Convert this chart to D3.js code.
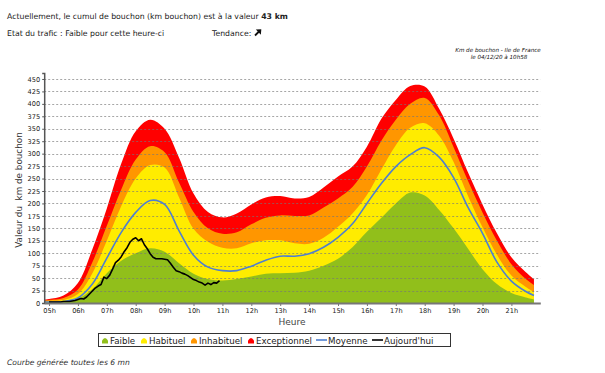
<!DOCTYPE html>
<html><head><meta charset="utf-8">
<script src="https://cdn.jsdelivr.net/npm/d3@7"></script>
<style>body{margin:0;background:#fff} svg{display:block}</style>
</head><body>
<svg id="c" width="605" height="373"></svg>
<script>
// ---- data ----
const hours = [4.8333, 5.0, 5.5, 6.0, 6.5, 7.0, 7.5, 8.0, 8.5, 9.0, 9.5, 10.0, 10.5, 11.0, 11.5, 12.0, 12.5, 13.0, 13.5, 14.0, 14.5, 15.0, 15.5, 16.0, 16.5, 17.0, 17.5, 18.0, 18.5, 19.0, 19.5, 20.0, 20.5, 21.0, 21.5, 21.78];
const exceptionnel = [7, 8, 15, 40, 108, 190, 280, 345, 368, 350, 292, 220, 183, 172, 180, 198, 212, 215, 210, 213, 232, 254, 274, 314, 370, 408, 436, 435, 390, 330, 262, 198, 140, 92, 62, 48];
const inhabituel = [5, 6, 10, 27, 82, 155, 228, 288, 315, 303, 242, 183, 150, 139, 142, 158, 171, 176, 175, 176, 192, 210, 233, 274, 326, 368, 400, 412, 377, 313, 245, 182, 125, 78, 48, 36];
const habituel = [3, 4, 6, 18, 60, 125, 195, 250, 277, 272, 212, 149, 123, 111, 110, 120, 126, 126, 120, 119, 131, 153, 180, 217, 268, 317, 352, 361, 336, 283, 215, 152, 97, 55, 32, 22];
const faible = [1, 1, 2, 8, 28, 60, 85, 100, 110, 103, 80, 59, 48, 45, 48, 53, 59, 60, 61, 65, 75, 89, 112, 143, 171, 200, 222, 216, 187, 150, 109, 68, 38, 20, 11, 7];
const moyenne = [2, 2, 3, 10, 38, 90, 142, 182, 206, 198, 145, 96, 72, 65, 65, 74, 86, 94, 94, 99, 112, 132, 159, 200, 240, 274, 298, 312, 293, 252, 192, 140, 82, 44, 23, 15];
const todayStart = 5.0, todayStep = 0.1; // one reading every 6 mn
const today = [2, 2, 2, 2, 2, 3, 3, 3, 4, 5,
  7, 9, 8, 12, 18, 24, 30, 34, 37, 52,
  49, 56, 68, 81, 86, 93, 103, 111, 122, 128,
  131, 125, 129, 117, 109, 99, 92, 89, 89, 89,
  88, 87, 80, 72, 65, 63, 60, 58, 55, 51,
  47, 45, 42, 40, 36, 40, 37, 41, 40, 45];
const yTicks = [0, 25, 50, 75, 100, 125, 150, 175, 200, 225, 250, 275, 300, 325, 350, 375, 400, 425, 450];
const xTickHours = [5, 6, 7, 8, 9, 10, 11, 12, 13, 14, 15, 16, 17, 18, 19, 20, 21];
const xTickLabels = ["05h","06h","07h","08h","09h","10h","11h","12h","13h","14h","15h","16h","17h","18h","19h","20h","21h"];
const legendLabels = ["Faible", "Habituel", "Inhabituel", "Exceptionnel", "Moyenne", "Aujourd'hui"];
const colors = {faible:"#91bf1b", habituel:"#ffec00", inhabituel:"#ff9600", exceptionnel:"#ff0000", moyenne:"#4f7fd0", today:"#000000"};

// ---- chart ----
const svg = d3.select("#c");
const F = "'DejaVu Sans', Verdana, sans-serif";
const x = d3.scaleLinear().domain([4.8333, 22]).range([44.2, 540.3]);
const y = d3.scaleLinear().domain([0, 462]).range([303, 73]);

const curve = d3.curveCatmullRom.alpha(0.5);
function areaFor(vals){
  return d3.area().x((d,i)=>x(hours[i])).y0(y(0)).y1(d=>y(Math.max(0,d))).curve(curve)(vals);
}
[["exceptionnel",exceptionnel],["inhabituel",inhabituel],["habituel",habituel],["faible",faible]].forEach(([k,v])=>{
  svg.append("path").attr("d", areaFor(v)).attr("fill", colors[k]);
});

// grid
svg.append("g").selectAll("line").data(yTicks.filter(t=>t>0)).join("line")
  .attr("x1", x(4.8333)).attr("x2", x(22)).attr("y1", d=>Math.round(y(d))+0.5).attr("y2", d=>Math.round(y(d))+0.5)
  .attr("stroke", "#777").attr("stroke-opacity", 0.65).attr("stroke-dasharray", "2,2").attr("stroke-width", 1);

// moyenne
svg.append("path").attr("d", d3.line().x((d,i)=>x(hours[i])).y(d=>y(d)).curve(curve)(moyenne))
  .attr("fill","none").attr("stroke", colors.moyenne).attr("stroke-width", 1.6);
// today
svg.append("path").attr("d", d3.line().x((d,i)=>x(todayStart + i*todayStep)).y(d=>y(d))(today))
  .attr("fill","none").attr("stroke", colors.today).attr("stroke-width", 1.6).attr("stroke-linejoin","round");

// y axis
const ya = svg.append("g").attr("transform", `translate(${x(4.8333)},0)`)
  .call(d3.axisLeft(y).tickValues(yTicks).tickSize(2).tickPadding(2));
ya.select(".domain").attr("stroke", "#555").attr("stroke-width", 1.5);
ya.selectAll(".tick line").attr("stroke", "#555");
ya.selectAll("text").attr("font-family", F).attr("font-size", "6.6px").attr("fill", "#222");

// x axis
const xa = svg.append("g").attr("transform", `translate(0,${y(0)})`)
  .call(d3.axisBottom(x).tickValues(xTickHours).tickFormat((d,i)=>xTickLabels[i]).tickSize(3).tickSizeOuter(0).tickPadding(2));
xa.select(".domain").attr("stroke", "#777").attr("stroke-width", 2);
xa.selectAll(".tick line").attr("stroke", "#777");
xa.selectAll("text").attr("font-family", F).attr("font-size", "6.6px").attr("fill", "#222");

// axis titles
svg.append("text").attr("x", 292).attr("y", 325).attr("text-anchor","middle")
  .attr("font-family", F).attr("font-size", "9px").attr("fill", "#444").text("Heure");
svg.append("text").attr("transform", "translate(22,190) rotate(-90)").attr("text-anchor","middle")
  .attr("font-family", F).attr("font-size", "8.8px").attr("fill", "#333").attr("xml:space","preserve")
  .style("white-space","pre").text("Valeur du  km de bouchon");

// header texts
const t1 = svg.append("text").attr("x", 7).attr("y", 19).attr("font-family", F).attr("font-size", "7.75px").attr("fill", "#222");
t1.append("tspan").text("Actuellement, le cumul de bouchon (km bouchon) est à la valeur ");
t1.append("tspan").attr("font-weight","bold").text("43 km");
svg.append("text").attr("x", 7).attr("y", 36).attr("font-family", F).attr("font-size", "7.75px").attr("fill", "#222")
  .text("Etat du trafic : Faible pour cette heure-ci");
svg.append("text").attr("x", 212).attr("y", 36).attr("font-family", F).attr("font-size", "7.75px").attr("fill", "#222")
  .text("Tendance:");
// trend arrow (north-east)
svg.append("line").attr("x1", 255).attr("y1", 35.5).attr("x2", 259.5).attr("y2", 31)
  .attr("stroke", "#111").attr("stroke-width", 1.8);
svg.append("path").attr("d", "M261.3,29.2 L255.8,29.6 L260.9,34.7 Z").attr("fill", "#111");

svg.append("text").attr("x", 498).attr("y", 52).attr("text-anchor","middle").attr("font-family", F).attr("font-style","italic")
  .attr("font-size", "5.6px").attr("fill", "#111").text("Km de bouchon - Ile de France");
svg.append("text").attr("x", 499).attr("y", 58.5).attr("text-anchor","middle").attr("font-family", F).attr("font-style","italic")
  .attr("font-size", "5.6px").attr("fill", "#111").text("le 04/12/20 à 10h58");

svg.append("text").attr("x", 7).attr("y", 365).attr("font-family", F).attr("font-style","italic")
  .attr("font-size", "7.6px").attr("fill", "#333").text("Courbe générée toutes les 6 mn");

// legend
svg.append("rect").attr("x", 98.5).attr("y", 333.5).attr("width", 352).attr("height", 13)
  .attr("fill", "#fff").attr("stroke", "#333").attr("stroke-width", 1);
const legItems = [
  {type:"area", color:colors.faible, mx:102, tx:110},
  {type:"area", color:colors.habituel, mx:141, tx:149},
  {type:"area", color:colors.inhabituel, mx:191, tx:199},
  {type:"area", color:colors.exceptionnel, mx:248, tx:256},
  {type:"line", color:colors.moyenne, mx:316, tx:328},
  {type:"line", color:colors.today, mx:372, tx:384}
];
legItems.forEach((it,i)=>{
  if(it.type==="area"){
    svg.append("path").attr("d", `M${it.mx},343.5 L${it.mx},340.5 Q${it.mx+3},335.5 ${it.mx+6},340.5 L${it.mx+6},343.5 Z`).attr("fill", it.color);
  } else {
    svg.append("line").attr("x1", it.mx).attr("x2", it.mx+11).attr("y1", 340).attr("y2", 340)
      .attr("stroke", it.color).attr("stroke-width", 1.6);
  }
  svg.append("text").attr("x", it.tx).attr("y", 343.5).attr("font-family", F).attr("font-size", "8.7px").attr("fill", "#222")
    .text(legendLabels[i]);
});
</script>
</body></html>
